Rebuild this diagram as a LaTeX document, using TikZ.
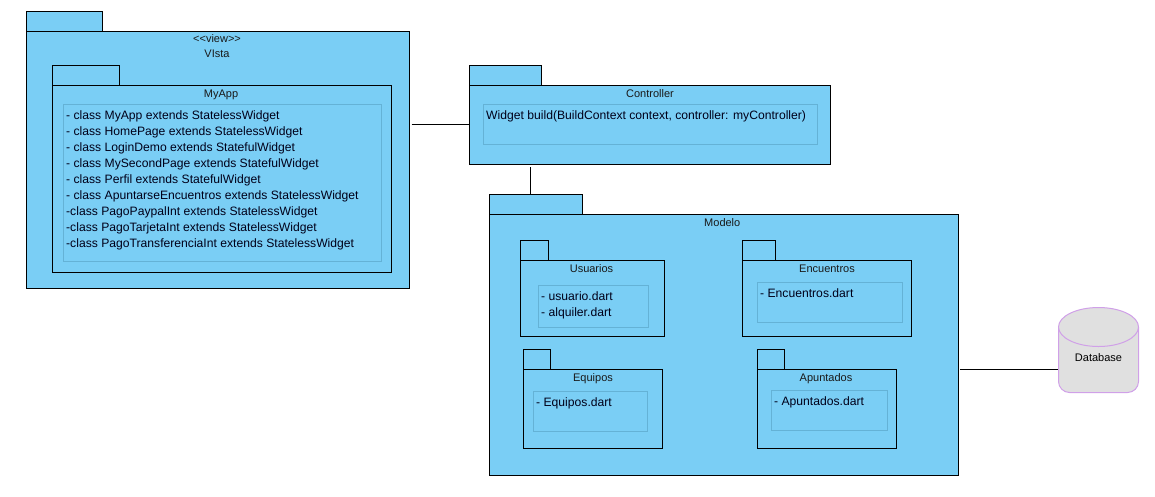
\documentclass[tikz,border=0pt]{standalone}
\usepackage{fontspec}
\setmainfont{Liberation Sans}
\usepackage{xcolor}
\usetikzlibrary{positioning, calc}
\definecolor{pkgblue}{RGB}{122,206,245}
\definecolor{noteline}{RGB}{100,178,214}
\definecolor{dbgrey}{RGB}{224,224,224}
\definecolor{dbline}{RGB}{208,160,232}
\tikzstyle{pkgbody} = [rectangle, anchor=north west, inner sep=0pt, outer sep=0pt, draw=black, line width=1pt, fill=pkgblue]
\tikzstyle{pkgtab} = [rectangle, inner sep=0pt, outer sep=0pt, minimum height=20pt, draw=black, line width=1pt, fill=pkgblue]
\tikzstyle{pkgtitle} = [inner sep=0pt, align=center, font=\fontsize{11}{15}\selectfont, text=black!90]
\tikzstyle{pkgnote} = [rectangle, inner sep=0pt, outer sep=0pt, draw=noteline, line width=1pt, fill=pkgblue]
\tikzstyle{notetext} = [inner sep=0pt, align=left, font=\fontsize{12.15}{16}\selectfont, text=black!90!blue]
\tikzstyle{link} = [line width=1pt, draw=black]
\tikzstyle{can} = [draw=dbline, line width=1pt, fill=dbgrey]

\begin{document}
\begin{tikzpicture}[x=1pt, y=1pt]
\useasboundingbox (0,0) rectangle (1155,-496);

% Vista
\node (vista) [pkgbody, minimum width=383pt, minimum height=257pt] at (26.5,-31.5) {};
\node (vistatab) [pkgtab, minimum width=76pt, above right=0pt and 0pt of vista.north west] {};
\node (vistatitle) [pkgtitle, below=3pt of vista.north, xshift=-1pt] {<{}<view>{}>\\VIsta};
\node (myapp) [pkgbody, minimum width=339pt, minimum height=187pt] at (52.5,-85.5) {};
\node (myapptab) [pkgtab, minimum width=67pt, above right=0pt and 0pt of myapp.north west] {};
\node (myapptitle) [pkgtitle, below=4pt of myapp.north, xshift=-1pt] {MyApp};
\node (myappnote) [pkgnote, minimum width=318pt, minimum height=157pt, below right=19pt and 11pt of myapp.north west] {};
\node (myapptext) [notetext, below right=6pt and 2.5pt of myappnote.north west] {- class MyApp extends StatelessWidget\\
- class HomePage extends StatelessWidget\\
- class LoginDemo extends StatefulWidget\\
- class MySecondPage extends StatefulWidget\\
- class Perfil extends StatefulWidget\\
- class ApuntarseEncuentros extends StatelessWidget\\
-class PagoPaypalInt extends StatelessWidget\\
-class PagoTarjetaInt extends StatelessWidget\\
-class PagoTransferenciaInt extends StatelessWidget};

% Controller
\node (ctrl) [pkgbody, minimum width=361pt, minimum height=79pt] at (469.5,-85.5) {};
\node (ctrltab) [pkgtab, minimum width=72pt, above right=0pt and 0pt of ctrl.north west] {};
\node (ctrltitle) [pkgtitle, below=4pt of ctrl.north] {Controller};
\node (ctrlnote) [pkgnote, minimum width=334pt, minimum height=40pt, below right=19pt and 14pt of ctrl.north west] {};
\node (ctrltext) [notetext, below right=6pt and 2.5pt of ctrlnote.north west] {Widget build(BuildContext context, controller: myController)};

% Modelo
\node (modelo) [pkgbody, minimum width=468.5pt, minimum height=261pt] at (489.5,-214.5) {};
\node (modelotab) [pkgtab, minimum width=93pt, above right=0pt and 0pt of modelo.north west] {};
\node (modelotitle) [pkgtitle, below=4pt of modelo.north, xshift=-1.5pt] {Modelo};

\node (usuarios) [pkgbody, minimum width=144pt, minimum height=76pt] at (520.5,-260.5) {};
\node (usuariostab) [pkgtab, minimum width=28pt, above right=0pt and 0pt of usuarios.north west] {};
\node (usuariostitle) [pkgtitle, below=4pt of usuarios.north, xshift=-1pt] {Usuarios};
\node (usuariosnote) [pkgnote, minimum width=110pt, minimum height=42pt, below right=25pt and 18pt of usuarios.north west] {};
\node (usuariostext) [notetext, below right=6pt and 2.5pt of usuariosnote.north west] {- usuario.dart\\- alquiler.dart};

\node (encuentros) [pkgbody, minimum width=169pt, minimum height=76pt] at (742.5,-260.5) {};
\node (encuentrostab) [pkgtab, minimum width=33pt, above right=0pt and 0pt of encuentros.north west] {};
\node (encuentrostitle) [pkgtitle, below=4pt of encuentros.north] {Encuentros};
\node (encuentrosnote) [pkgnote, minimum width=145pt, minimum height=40pt, below right=22pt and 15pt of encuentros.north west] {};
\node (encuentrostext) [notetext, below right=6pt and 2.5pt of encuentrosnote.north west] {- Encuentros.dart};

\node (equipos) [pkgbody, minimum width=139pt, minimum height=79pt] at (523.5,-369.5) {};
\node (equipostab) [pkgtab, minimum width=27pt, above right=0pt and 0pt of equipos.north west] {};
\node (equipostitle) [pkgtitle, below=4pt of equipos.north] {Equipos};
\node (equiposnote) [pkgnote, minimum width=114pt, minimum height=40pt, below right=22pt and 10pt of equipos.north west] {};
\node (equipostext) [notetext, below right=6pt and 2.5pt of equiposnote.north west] {- Equipos.dart};

\node (apuntados) [pkgbody, minimum width=139pt, minimum height=79pt] at (757.5,-369.5) {};
\node (apuntadostab) [pkgtab, minimum width=27pt, above right=0pt and 0pt of apuntados.north west] {};
\node (apuntadostitle) [pkgtitle, below=4pt of apuntados.north, xshift=-1pt] {Apuntados};
\node (apuntadosnote) [pkgnote, minimum width=116pt, minimum height=40pt, below right=21pt and 14pt of apuntados.north west] {};
\node (apuntadostext) [notetext, below right=6pt and 2.5pt of apuntadosnote.north west] {- Apuntados.dart};

% Database
\coordinate (dbtop) at (1098.5,-327);
\draw [can, rounded corners=11pt] ($(dbtop)+(-40,0)$) -- ($(dbtop)+(-40,-65.5)$) -- ($(dbtop)+(40,-65.5)$) -- ($(dbtop)+(40,0)$);
\draw [can] (dbtop) ellipse [x radius=40, y radius=19.5];
\node (dbase) [inner sep=0pt, font=\fontsize{11}{15}\selectfont, minimum width=80pt, minimum height=68pt] at (1098.5,-358) {Database};

% connectors
\draw [link] ([xshift=2pt,yshift=0.5pt]vista.east |- ctrl.west) -- ([yshift=0.5pt]ctrl.west);
\draw [link] ([xshift=-5.5pt]modelotab.north) -- ([xshift=-5.5pt,yshift=-2pt]modelotab.north |- ctrl.south);
\draw [link] ([xshift=2pt,yshift=-24.5pt]modelo.east) -- ([yshift=-11.5pt]dbase.west);
\end{tikzpicture}
\end{document}
